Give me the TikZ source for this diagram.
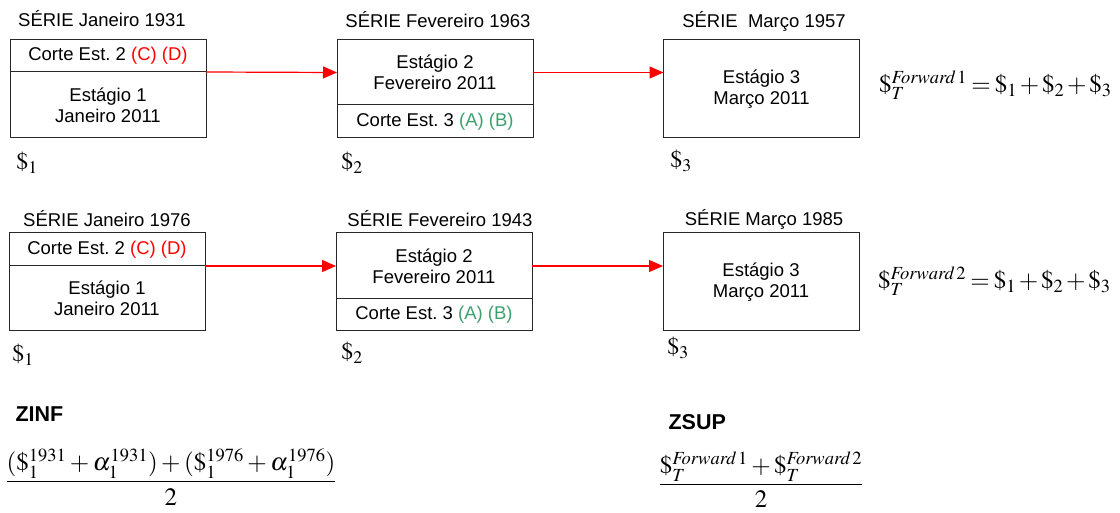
\documentclass[tikz,border=0pt]{standalone}
\usepackage{amsmath}
\usepackage{mathptmx}
\usepackage[no-math]{fontspec}
\setmainfont{Liberation Sans}
\frenchspacing
\usetikzlibrary{arrows.meta,positioning}
\definecolor{cutred}{RGB}{255,0,0}
\definecolor{cutgreen}{RGB}{60,160,110}
\definecolor{boxline}{RGB}{40,40,40}
\newcommand{\vfwd}[1]{\$_T^{\mathit{Forward}\,#1}}
\newcommand{\tight}{\thickmuskip=3mu \medmuskip=2mu}

\begin{document}
\begin{tikzpicture}
    [x=1pt, y=-1pt, font=\fontsize{18.5}{21}\selectfont,
     part/.style={draw=boxline, line width=1pt, minimum width=196pt, inner sep=0pt, outer sep=0pt, align=center},
     arr/.style={draw=cutred, line width=1.2pt, -{Triangle[length=14pt,width=12pt]}},
     money/.style={font=\fontsize{24}{28}\selectfont, inner sep=0pt},
     total/.style={font=\fontsize{25}{29}\selectfont, inner sep=0pt, anchor=west},
     ratio/.style={font=\fontsize{25}{29}\selectfont, inner sep=0pt},
     zlabel/.style={font=\bfseries\fontsize{21.5}{24}\selectfont, anchor=west}]
    \useasboundingbox (0,0) rectangle (1120,513);

    % serie 1
    \node (t1) at (102,19)  {SÉRIE Janeiro 1931};
    \node (t2) at (438,20)  {SÉRIE Fevereiro 1963};
    \node (t3) at (764,21)  {SÉRIE \ Março 1957};
    \node[part, minimum height=32pt] (c1) at (108,56) {Corte Est. 2 \textcolor{cutred}{(C) (D)}};
    \node[part, minimum height=66pt, below=0pt of c1] (e1) {Estágio 1\\Janeiro 2011};
    \node[part, minimum height=65pt] (e2) at (435,72.5) {Estágio 2\\Fevereiro 2011};
    \node[part, minimum height=33pt, below=0pt of e2] (c2) {Corte Est. 3 \textcolor{cutgreen}{(A) (B)}};
    \node[part, minimum height=98pt] (e3) at (761.5,89) {Estágio 3\\Março 2011};
    \node[money] (d1) at (27,163) {$\$_1$};
    \node[money] (d2) at (352,163) {$\$_2$};
    \node[money] (d3) at (681,161) {$\$_3$};
    \node[total] (f1) at (879,85) {$\tight\vfwd{1} = \$_1 + \$_2 + \$_3$};

    % serie 2
    \node (t4) at (107,219) {SÉRIE Janeiro 1976};
    \node (t5) at (440,219) {SÉRIE Fevereiro 1943};
    \node (t6) at (764,219) {SÉRIE Março 1985};
    \node[part, minimum height=33pt] (c4) at (107,249.5) {Corte Est. 2 \textcolor{cutred}{(C) (D)}};
    \node[part, minimum height=65pt, below=0pt of c4] (e4) {Estágio 1\\Janeiro 2011};
    \node[part, minimum height=66pt] (e5) at (434,266) {Estágio 2\\Fevereiro 2011};
    \node[part, minimum height=32pt, below=0pt of e5] (c5) {Corte Est. 3 \textcolor{cutgreen}{(A) (B)}};
    \node[part, minimum height=98pt] (e6) at (761,282) {Estágio 3\\Março 2011};
    \node[money] (d4) at (23,355) {$\$_1$};
    \node[money] (d5) at (352,353) {$\$_2$};
    \node[money] (d6) at (678,348) {$\$_3$};
    \node[total] (f2) at (878,281) {$\tight\vfwd{2} = \$_1 + \$_2 + \$_3$};

    \foreach \from/\to in {c1/e2, c4/e5}
        \draw[arr] (\from.south east) -- (\to.west);
    \foreach \from/\to in {e2/e3, e5/e6}
        \draw[arr] (\from.east) -- (\from.east -| \to.west);

    % zinf e zsup
    \node[zlabel] (zinf) at (12,414) {ZINF};
    \node[zlabel] (zsup) at (665,422) {ZSUP};
    \node[ratio] (qinf) at (171,477) {$\dfrac{(\$_1^{1931}+\alpha_1^{1931})+(\$_1^{1976}+\alpha_1^{1976})}{2}$};
    \node[ratio] (qsup) at (761,480) {$\dfrac{\vfwd{1}+\vfwd{2}}{2}$};
\end{tikzpicture}
\end{document}
